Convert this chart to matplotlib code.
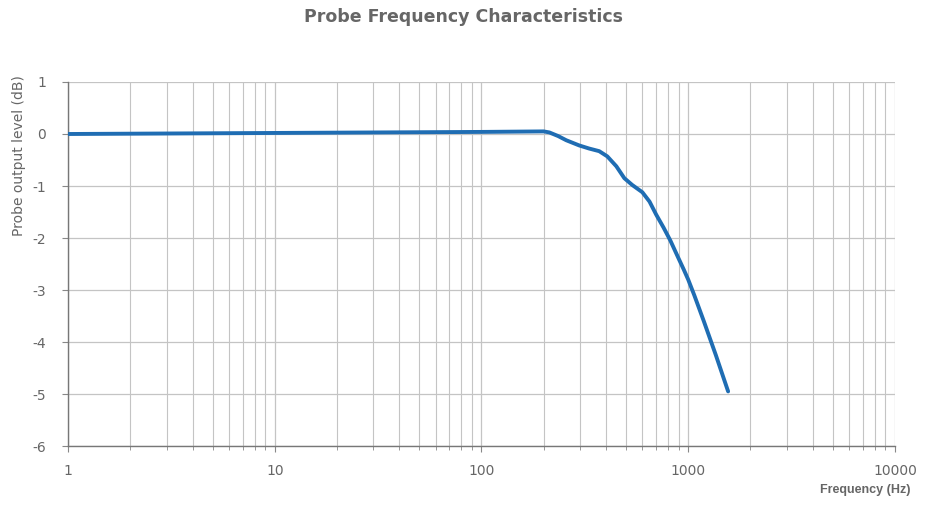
import matplotlib
matplotlib.use("Agg")
import matplotlib.pyplot as plt
import numpy as np
from matplotlib.ticker import LogLocator, FixedLocator

plt.rcParams["font.family"] = ["DejaVu Sans"]
plt.rcParams["axes.unicode_minus"] = False

# probe response
freq_hz = [1, 10, 100, 200, 213, 235, 257, 297, 332, 371, 406, 449, 491,
           536, 600, 650, 700, 760, 820, 900, 950, 1000, 1070, 1190, 1360,
           1560]
level_db = [0.0, 0.02, 0.04, 0.05, 0.03, -0.04, -0.12, -0.22, -0.28, -0.33,
            -0.43, -0.62, -0.85, -0.98, -1.12, -1.30, -1.55, -1.80, -2.05,
            -2.40, -2.60, -2.80, -3.10, -3.60, -4.25, -4.95]

x_ticks = [1, 10, 100, 1000, 10000]
y_ticks = [1, 0, -1, -2, -3, -4, -5, -6]

GRID = "#c4c4c4"
TEXT = "#666666"

fig = plt.figure(figsize=(9.27, 5.17), dpi=100)
ax = fig.add_axes([0.0734, 0.1373, 0.892, 0.7041])

ax.plot(freq_hz, level_db, color="#1f6db3", lw=2.8, solid_capstyle="round",
        solid_joinstyle="round", zorder=3)

ax.set_xscale("log")
ax.set_xlim(1, 10000)
ax.set_ylim(-6, 1)
ax.xaxis.set_major_locator(FixedLocator(x_ticks))
ax.xaxis.set_minor_locator(LogLocator(base=10, subs=np.arange(2, 10)))
ax.xaxis.set_minor_formatter(plt.NullFormatter())
ax.set_xticklabels([str(t) for t in x_ticks])
ax.set_yticks(y_ticks)

ax.grid(which="major", color=GRID, lw=0.9)
ax.grid(which="minor", axis="x", color=GRID, lw=0.8)

for side in ("top", "right"):
    ax.spines[side].set_visible(False)
for side in ("left", "bottom"):
    ax.spines[side].set_color("#777777")
    ax.spines[side].set_linewidth(1.0)

ax.tick_params(axis="both", which="major", colors="#888888", labelcolor=TEXT,
               labelsize=10, length=4, width=0.8)
ax.tick_params(axis="x", which="minor", colors="#888888", length=3, width=0.6)
ax.tick_params(axis="x", which="major", pad=9)
ax.tick_params(axis="y", which="major", pad=12)

fig.text(0.5, 0.968, "Probe Frequency Characteristics", ha="center",
         va="center", fontsize=12.5, fontweight="bold", color=TEXT)
fig.text(0.021, 0.70, "Probe output level (dB)", rotation=90, ha="center",
         va="center", fontsize=10, color=TEXT)
fig.text(0.9337, 0.052, "Frequency (Hz)", ha="center", va="center",
         fontsize=9, fontweight="bold", color=TEXT,
         family=["Liberation Sans", "DejaVu Sans"])

fig.savefig("out.png", dpi=100, facecolor="white")
